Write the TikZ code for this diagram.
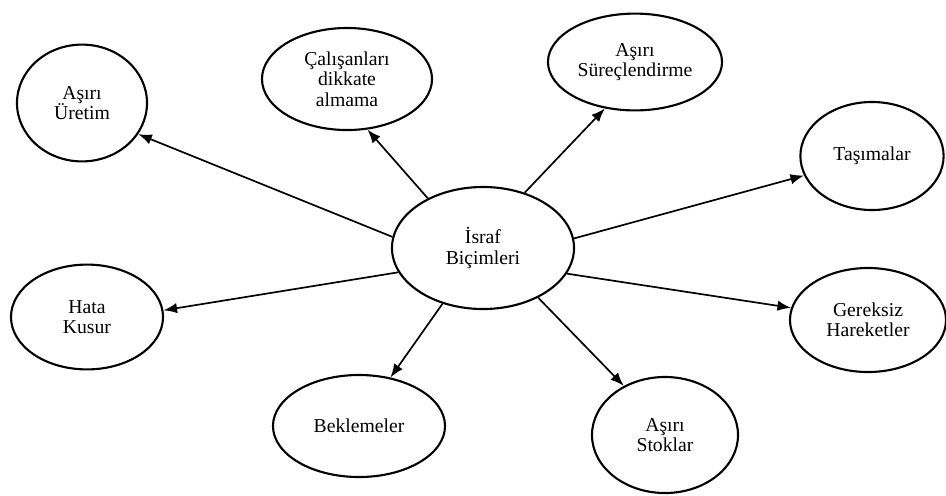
\documentclass[tikz,border=0pt]{standalone}
\usepackage{fontspec}
\setmainfont{Liberation Serif}
\usetikzlibrary{shapes.geometric, arrows.meta}

\tikzset{
  form/.style={draw, ellipse, line width=1.5pt, inner sep=0pt, align=center,
    font=\fontsize{14}{14.5}\selectfont},
}

\begin{document}
\begin{tikzpicture}[x=0.025cm, y=-0.025cm, >={Latex[length=3.4mm, width=2.6mm]}]
    \useasboundingbox (0,0) rectangle (946,495);

    \node[form, minimum width=4.55cm, minimum height=3.05cm] (israf) at (483,248) {İsraf\\Biçimleri};

    \node[form, minimum width=3.25cm, minimum height=2.92cm] (uretim) at (82,103) {Aşırı\\Üretim};
    \node[form, minimum width=4.25cm, minimum height=2.55cm] (calisan) at (347,79) {Çalışanları\\dikkate\\almama};
    \node[form, minimum width=4.35cm, minimum height=2.42cm] (surec) at (635,62) {Aşırı\\Süreçlendirme};
    \node[form, minimum width=3.58cm, minimum height=2.7cm] (tasima) at (872,156) {Taşımalar};

    \node[form, minimum width=3.8cm, minimum height=2.62cm] (hata) at (87,317) {Hata\\Kusur};
    \node[form, minimum width=3.9cm, minimum height=2.6cm] (gereksiz) at (868,320) {Gereksiz\\Hareketler};
    \node[form, minimum width=4.3cm, minimum height=2.55cm] (bekleme) at (359,426) {Beklemeler};
    \node[form, minimum width=3.65cm, minimum height=2.9cm] (stok) at (665,435) {Aşırı\\Stoklar};

    \draw[->, line width=1.2pt] (israf.173) -- (uretim.-29);
    \draw[->, line width=1.2pt] (israf.138) -- (calisan.-68);
    \draw[->, line width=1.2pt] (israf.53) -- (surec.-123);
    \draw[->, line width=1.2pt] (israf.6) -- (tasima.196);

    \draw[->, line width=1.2pt] (israf.196) -- (hata.5);
    \draw[->, line width=1.2pt] (israf.-17) -- (gereksiz.171);
    \draw[->, line width=1.2pt] (israf.234) -- (bekleme.57);
    \draw[->, line width=1.2pt] (israf.-42) -- (stok.130);
  \end{tikzpicture}
\end{document}
